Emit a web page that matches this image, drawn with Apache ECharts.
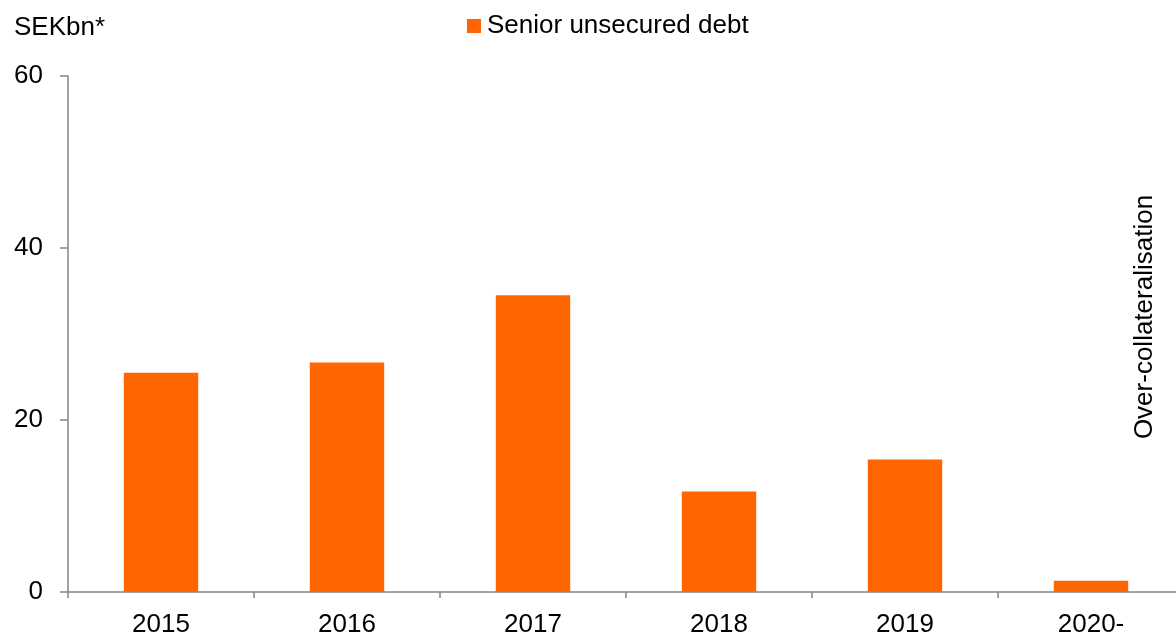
<!DOCTYPE html>
<html>
<head>
<meta charset="utf-8">
<script src="https://cdn.jsdelivr.net/npm/echarts@6/dist/echarts.min.js"></script>
<style>
  html, body { margin: 0; padding: 0; background: #ffffff; }
  #chart { width: 1176px; height: 634px; }
</style>
</head>
<body>
<div id="chart"></div>
<script>
// Maturity profile of senior unsecured debt, SEK billions
const years = ['2015', '2016', '2017', '2018', '2019', '2020-'];
const seniorUnsecured = [25.5, 26.7, 34.5, 11.7, 15.4, 1.3];
const yTicks = [0, 20, 40, 60];
const seriesName = 'Senior unsecured debt';
const unitLabel = 'SEKbn*';
const sideLabel = 'Over-collateralisation';

const FONT = '"Liberation Sans", Arial, sans-serif';
const ORANGE = '#FF6600';
const AXIS_GREY = '#868686';

const chart = echarts.init(document.getElementById('chart'), null, { renderer: 'canvas' });

chart.setOption({
  backgroundColor: '#ffffff',
  animation: false,
  textStyle: { fontFamily: FONT },
  // fixed plot box; the last category runs slightly past the canvas edge
  grid: {
    left: 68, top: 76, width: 1116, height: 516,
    containLabel: false,
    outerBoundsMode: 'none'
  },
  legend: {
    data: [seriesName],
    left: 462,
    top: 8,
    icon: 'rect',
    itemWidth: 14,
    itemHeight: 14,
    itemGap: 10,
    textStyle: { fontFamily: FONT, fontSize: 26, color: '#000000', padding: [0, 0, 0, 1] }
  },
  xAxis: {
    type: 'category',
    data: years,
    axisLine: { show: true, lineStyle: { color: AXIS_GREY, width: 1.5 } },
    axisTick: { show: true, alignWithLabel: false, length: 6, lineStyle: { color: AXIS_GREY, width: 1.5 } },
    axisLabel: { fontFamily: FONT, fontSize: 26, lineHeight: 26, color: '#000000', margin: 20 },
    splitLine: { show: false }
  },
  yAxis: {
    type: 'value',
    min: yTicks[0],
    max: yTicks[yTicks.length - 1],
    interval: yTicks[1] - yTicks[0],
    axisLine: { show: true, lineStyle: { color: AXIS_GREY, width: 1.5 } },
    axisTick: { show: true, inside: false, length: 8, lineStyle: { color: AXIS_GREY, width: 1.5 } },
    axisLabel: { fontFamily: FONT, fontSize: 26, color: '#000000', margin: 25 },
    splitLine: { show: false }
  },
  series: [{
    name: seriesName,
    type: 'bar',
    data: seniorUnsecured,
    barWidth: '40%',
    itemStyle: { color: ORANGE }
  }],
  graphic: [
    {
      type: 'text',
      left: 14,
      top: 15,
      style: {
        text: unitLabel,
        fontFamily: FONT,
        fontSize: 26,
        fill: '#000000'
      }
    },
    {
      type: 'text',
      x: 1145,
      y: 317,
      rotation: Math.PI / 2,
      style: {
        text: sideLabel,
        fontFamily: FONT,
        fontSize: 26,
        fill: '#000000',
        align: 'center',
        verticalAlign: 'middle'
      }
    }
  ]
});
</script>
</body>
</html>
